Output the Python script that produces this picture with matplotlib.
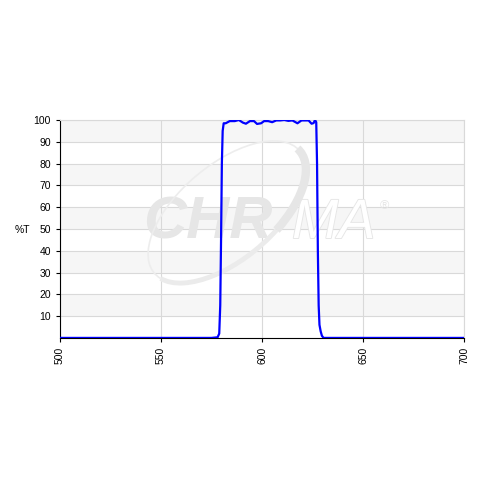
import matplotlib.pyplot as plt
from matplotlib.patches import Arc
import matplotlib.patheffects as pe

# transmission curve
wavelength = [500, 575, 578, 578.8, 579.3, 579.7, 580.1, 580.5, 581.0, 582.0, 584.0,
              586.5, 588.5, 590.5, 592.0, 594.0, 596.0, 597.5, 599.5, 601.0, 603.0,
              605.0, 607.0, 609.0, 611.0, 613.0, 615.0, 617.5, 619.5, 621.0, 623.0,
              624.5, 625.5, 626.2, 626.8, 627.2, 627.6, 628.0, 628.4, 629.0, 629.6,
              630.4, 632, 700]
transmission = [0, 0, 0.3, 2, 15, 45, 80, 95, 98.5, 98.5, 99.5,
                99.5, 100, 98.8, 98.3, 99.5, 99.5, 98.2, 98.5, 99.5, 99.5,
                99, 99.8, 99.8, 100, 99.6, 99.8, 98.5, 99.8, 99.8, 99.8,
                98.3, 98.6, 100, 99, 80, 40, 15, 6, 3, 1,
                0, 0, 0]

x_ticks = [500, 550, 600, 650, 700]
y_ticks = [10, 20, 30, 40, 50, 60, 70, 80, 90, 100]

plt.rcParams['font.family'] = ['Liberation Sans', 'DejaVu Sans']

fig = plt.figure(figsize=(4.8, 4.8), dpi=100)
ax = fig.add_axes([0.125, 0.296, 0.842, 0.454])

# alternating grey bands
for lo in range(10, 100, 20):
    ax.axhspan(lo, lo + 10, color='#f6f6f6', zorder=0, lw=0)

# watermark logo (placed in figure coords, drawn inside the axes)
wm = '#e6e6e6'
ax.text(143 / 480, 0.504, 'CHR', transform=fig.transFigure, fontsize=43,
        fontweight='bold', style='italic', color=wm, ha='left', va='baseline', zorder=1)
ax.text(292 / 480, 0.504, 'MA', transform=fig.transFigure, fontsize=40,
        style='italic', color='white', ha='left', va='baseline', zorder=1,
        path_effects=[pe.withStroke(linewidth=1.3, foreground=wm)])
ax.text(380 / 480, 0.57, '\u00ae', transform=fig.transFigure, fontsize=9,
        color=wm, ha='left', va='center', zorder=1)
swoosh = dict(xy=(2.27, 2.68), width=1.9, height=0.95, angle=40,
              transform=fig.dpi_scale_trans, zorder=1)
ax.add_patch(Arc(theta1=0, theta2=185, color='#ededed', lw=1.2, **swoosh))
ax.add_patch(Arc(theta1=185, theta2=300, color='#ebebeb', lw=3.5, **swoosh))
ax.add_patch(Arc(theta1=300, theta2=362, color=wm, lw=6, **swoosh))

ax.plot(wavelength, transmission, color='#0000ff', lw=1.6, zorder=3)

ax.set_xlim(500, 700)
ax.set_ylim(0, 100)
ax.set_xticks(x_ticks)
ax.set_yticks(y_ticks)
ax.tick_params(axis='x', labelrotation=90, labelsize=7.5, length=3, color='black')
ax.tick_params(axis='y', labelsize=7.5, length=3, color='black')
ax.grid(True, color='#d9d9d9', lw=0.8, zorder=0.5)
ax.set_axisbelow(True)

for side in ['top', 'right']:
    ax.spines[side].set_color('#d9d9d9')
for side in ['left', 'bottom']:
    ax.spines[side].set_color('black')
    ax.spines[side].set_linewidth(0.8)

ax.set_ylabel('%T', rotation=0, fontsize=7.5, ha='center', va='center')
ax.yaxis.set_label_coords(-0.092, 0.495)

fig.savefig('out.png', dpi=100, facecolor='white')
